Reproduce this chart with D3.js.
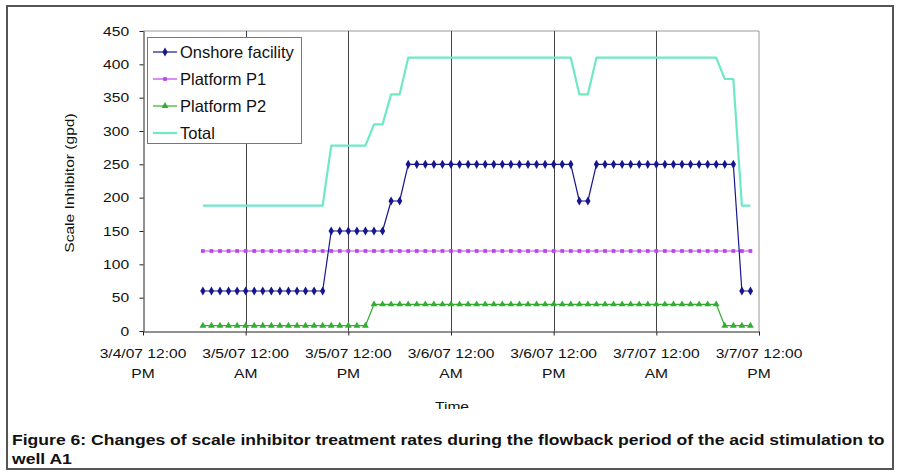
<!DOCTYPE html>
<html>
<head>
<meta charset="utf-8">
<script src="https://cdn.jsdelivr.net/npm/d3@7"></script>
<style>
  body { margin: 0; background: #fff; }
  svg { display: block; }
  text { font-family: "Liberation Sans", Arial, sans-serif; fill: #111; }
</style>
</head>
<body>
<svg id="chart" width="899" height="472"></svg>
<script>
// ---- data: hourly scale inhibitor rates (gpd), hours after 3/4/07 12:00 PM ----
const startTime = "2007-03-04T12:00:00";
const endTime = "2007-03-07T12:00:00";
const hourOffsets = [
  7, 8, 9, 10, 11, 12, 13, 14, 15, 16, 17, 18, 19, 20, 21,
  22, 23, 24, 25, 26, 27, 28, 29, 30, 31, 32, 33, 34, 35, 36,
  37, 38, 39, 40, 41, 42, 43, 44, 45, 46, 47, 48, 49, 50, 51,
  52, 53, 54, 55, 56, 57, 58, 59, 60, 61, 62, 63, 64, 65, 66,
  67, 68, 69, 70, 71
];
const onshore = [
  60, 60, 60, 60, 60, 60, 60, 60, 60, 60, 60, 60, 60, 60, 60,
  150, 150, 150, 150, 150, 150, 150, 195, 195, 250, 250, 250, 250, 250, 250,
  250, 250, 250, 250, 250, 250, 250, 250, 250, 250, 250, 250, 250, 250, 195,
  195, 250, 250, 250, 250, 250, 250, 250, 250, 250, 250, 250, 250, 250, 250,
  250, 250, 250, 60, 60
];
const platformP1 = [
  120, 120, 120, 120, 120, 120, 120, 120, 120, 120, 120, 120, 120, 120, 120,
  120, 120, 120, 120, 120, 120, 120, 120, 120, 120, 120, 120, 120, 120, 120,
  120, 120, 120, 120, 120, 120, 120, 120, 120, 120, 120, 120, 120, 120, 120,
  120, 120, 120, 120, 120, 120, 120, 120, 120, 120, 120, 120, 120, 120, 120,
  120, 120, 120, 120, 120
];
const platformP2 = [
  8, 8, 8, 8, 8, 8, 8, 8, 8, 8, 8, 8, 8, 8, 8,
  8, 8, 8, 8, 8, 40, 40, 40, 40, 40, 40, 40, 40, 40, 40,
  40, 40, 40, 40, 40, 40, 40, 40, 40, 40, 40, 40, 40, 40, 40,
  40, 40, 40, 40, 40, 40, 40, 40, 40, 40, 40, 40, 40, 40, 40,
  40, 8, 8, 8, 8
];
const total = [
  188, 188, 188, 188, 188, 188, 188, 188, 188, 188, 188, 188, 188, 188, 188,
  278, 278, 278, 278, 278, 310, 310, 355, 355, 410, 410, 410, 410, 410, 410,
  410, 410, 410, 410, 410, 410, 410, 410, 410, 410, 410, 410, 410, 410, 355,
  355, 410, 410, 410, 410, 410, 410, 410, 410, 410, 410, 410, 410, 410, 410,
  410, 378, 378, 188, 188
];
const seriesNames = ["Onshore facility", "Platform P1", "Platform P2", "Total"];
const yTicks = [0, 50, 100, 150, 200, 250, 300, 350, 400, 450];
const xTickTimes = [
  "2007-03-04T12:00:00", "2007-03-05T00:00:00", "2007-03-05T12:00:00",
  "2007-03-06T00:00:00", "2007-03-06T12:00:00", "2007-03-07T00:00:00",
  "2007-03-07T12:00:00"
];
const xTickLine1 = ["3/4/07 12:00", "3/5/07 12:00", "3/5/07 12:00", "3/6/07 12:00",
                    "3/6/07 12:00", "3/7/07 12:00", "3/7/07 12:00"];
const xTickLine2 = ["PM", "AM", "PM", "AM", "PM", "AM", "PM"];
const yTitle = "Scale Inhibitor (gpd)";
const xTitle = "Time";
const captionLines = [
  "Figure 6: Changes of scale inhibitor treatment rates during the flowback period of the acid stimulation to",
  "well A1"
];

// ---- layout ----
const svg = d3.select("#chart");
const plot = { left: 143, right: 759, top: 31, bottom: 331 };
const t0 = new Date(startTime);
const times = hourOffsets.map(h => new Date(t0.getTime() + h * 3600 * 1000));

const x = d3.scaleTime()
  .domain([new Date(startTime), new Date(endTime)])
  .range([plot.left, plot.right]);
const y = d3.scaleLinear().domain([0, 450]).range([plot.bottom, plot.top]);

const styles = [
  { color: "#16168e", width: 1.2, symbol: d3.symbolDiamond, size: 24 },
  { color: "#bb44ee", width: 1.2, symbol: d3.symbolSquare, size: 14 },
  { color: "#2fae2f", width: 1.2, symbol: d3.symbolTriangle, size: 20 },
  { color: "#6fe8c6", width: 2.2, symbol: null, size: 0 }
];
const series = [onshore, platformP1, platformP2, total];

// outer frame
svg.append("rect")
  .attr("x", 7).attr("y", 6).attr("width", 886).attr("height", 463)
  .attr("fill", "none").attr("stroke", "#555").attr("stroke-width", 2);

// plot area border (top and right)
svg.append("path")
  .attr("d", `M${plot.left},${plot.top}H${plot.right}V${plot.bottom}`)
  .attr("fill", "none").attr("stroke", "#999").attr("stroke-width", 1);

// vertical gridlines every 12 hours
const tickDates = xTickTimes.map(s => new Date(s));
svg.append("g").selectAll("line")
  .data(tickDates.slice(1, -1))
  .join("line")
  .attr("x1", d => Math.round(x(d)) + 0.5).attr("x2", d => Math.round(x(d)) + 0.5)
  .attr("y1", plot.top).attr("y2", plot.bottom)
  .attr("stroke", "#444").attr("stroke-width", 1);

// y axis
const yAxis = svg.append("g")
  .attr("transform", `translate(${plot.left + 0.5},0)`)
  .call(d3.axisLeft(y).tickValues(yTicks).tickSize(4).tickPadding(8).tickSizeOuter(0));
yAxis.select(".domain").attr("stroke", "#222");
yAxis.selectAll(".tick line").attr("stroke", "#222");
yAxis.selectAll(".tick text")
  .attr("font-size", 13).attr("fill", "#333")
  .attr("font-family", "Liberation Sans, Arial, sans-serif")
  .attr("transform", "scale(1.2,1)");

// x axis
const xAxis = svg.append("g")
  .attr("transform", `translate(0,${plot.bottom + 0.5})`)
  .call(d3.axisBottom(x).tickValues(tickDates).tickSize(4).tickSizeOuter(0).tickFormat(""));
xAxis.select(".domain").attr("stroke", "#222");
xAxis.selectAll(".tick line").attr("stroke", "#222");
const xLab = svg.append("g");
tickDates.forEach((d, i) => {
  const g = xLab.append("g").attr("transform", `translate(${x(d)},0)`);
  g.append("text").attr("y", 358).attr("text-anchor", "middle")
    .attr("font-size", 13).attr("fill", "#333")
    .attr("transform", "scale(1.2,1)").text(xTickLine1[i]);
  g.append("text").attr("y", 378).attr("text-anchor", "middle")
    .attr("font-size", 13).attr("fill", "#333")
    .attr("transform", "scale(1.2,1)").text(xTickLine2[i]);
});

// axis titles
svg.append("text")
  .attr("transform", "translate(74,183) rotate(-90) scale(1.2,1)")
  .attr("text-anchor", "middle").attr("font-size", 13).attr("fill", "#333")
  .text(yTitle);

// the x title sits at the lower edge of the chart panel and is cut off there
svg.append("clipPath").attr("id", "titleClip")
  .append("rect").attr("x", 0).attr("y", 0).attr("width", 899).attr("height", 409);
svg.append("g")
  .attr("clip-path", "url(#titleClip)")
  .append("text")
  .attr("transform", "translate(452,411) scale(1.2,1)")
  .attr("text-anchor", "middle").attr("font-size", 13).attr("fill", "#333")
  .text(xTitle);

// series lines and markers (Total drawn last so it sits on top)
const order = [1, 2, 0, 3];
order.forEach(si => {
  const vals = series[si];
  const st = styles[si];
  const line = d3.line().x((d, i) => x(times[i])).y(d => y(d));
  svg.append("path")
    .attr("d", line(vals))
    .attr("fill", "none").attr("stroke", st.color)
    .attr("stroke-width", st.width).attr("stroke-linejoin", "round");
  if (st.symbol) {
    svg.append("g").selectAll("path")
      .data(vals)
      .join("path")
      .attr("transform", (d, i) => `translate(${x(times[i])},${y(d)})`)
      .attr("d", d3.symbol().type(st.symbol).size(st.size))
      .attr("fill", st.color);
  }
});

// legend
const legend = svg.append("g");
legend.append("rect")
  .attr("x", 147.5).attr("y", 37.5).attr("width", 154).attr("height", 106)
  .attr("fill", "#fff").attr("stroke", "#777").attr("stroke-width", 1);
seriesNames.forEach((name, i) => {
  const st = styles[i];
  const cy = 52 + i * 27;
  legend.append("line")
    .attr("x1", 153).attr("x2", 177).attr("y1", cy).attr("y2", cy)
    .attr("stroke", st.color).attr("stroke-width", st.width);
  if (st.symbol) {
    legend.append("path")
      .attr("transform", `translate(165,${cy})`)
      .attr("d", d3.symbol().type(st.symbol).size(st.size))
      .attr("fill", st.color);
  }
  legend.append("text")
    .attr("x", 180).attr("y", cy + 6)
    .attr("font-size", 16.5).attr("fill", "#222")
    .text(name);
});

// caption, first line fitted to the figure width; second line uses the same scale
const cap1 = svg.append("text")
  .attr("font-size", 15).attr("font-weight", "bold").attr("fill", "#000")
  .text(captionLines[0]);
const k = 873 / cap1.node().getComputedTextLength();
cap1.attr("transform", `translate(12,445) scale(${k},1)`);
svg.append("text")
  .attr("font-size", 15).attr("font-weight", "bold").attr("fill", "#000")
  .attr("transform", `translate(12,464) scale(${k},1)`)
  .text(captionLines[1]);
</script>
</body>
</html>
